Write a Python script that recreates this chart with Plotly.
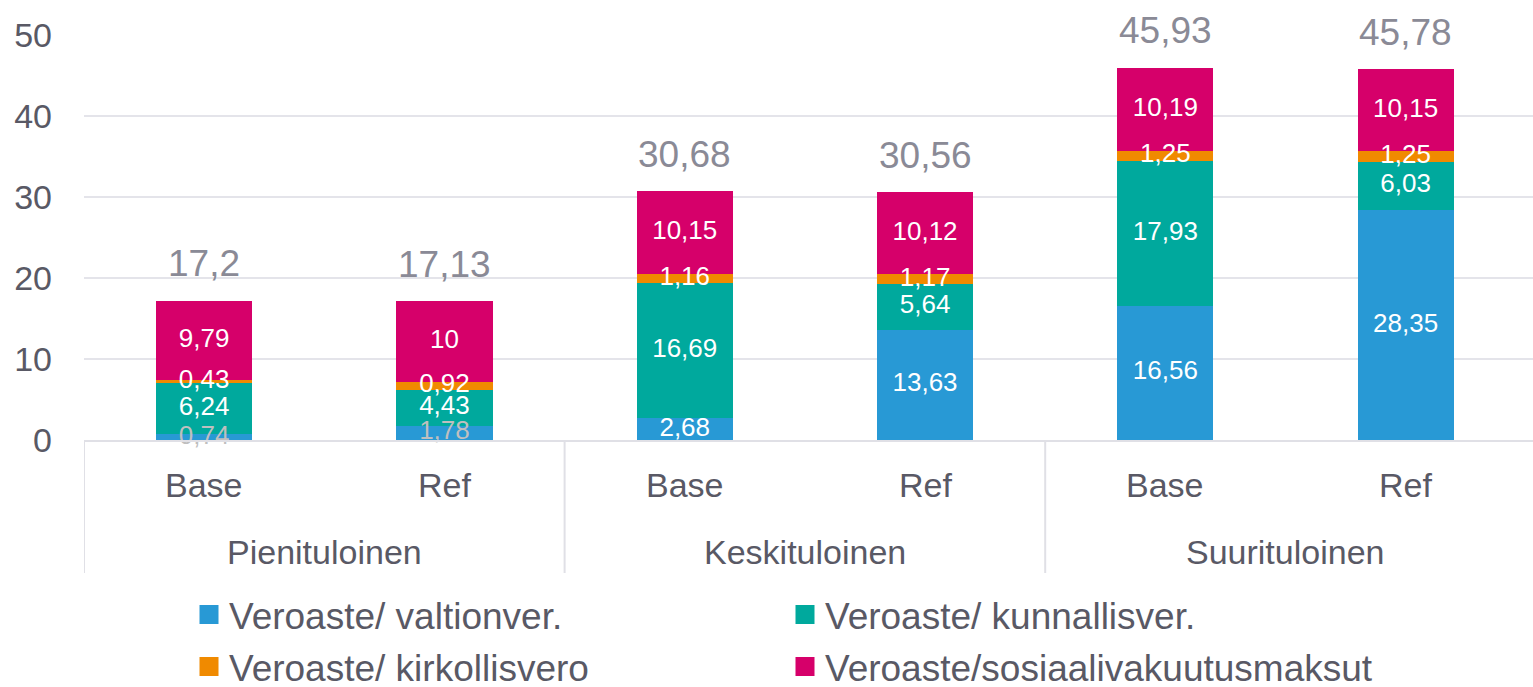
import plotly.graph_objects as go
import numpy as np

groups = ["Pienituloinen", "Keskituloinen", "Suurituloinen"]
cats = ["Base", "Ref", "Base", "Ref", "Base", "Ref"]

series_names = ["Veroaste/ valtionver.", "Veroaste/ kunnallisver.",
                "Veroaste/ kirkollisvero", "Veroaste/sosiaalivakuutusmaksut"]
valtion = [0.74, 1.78, 2.68, 13.63, 16.56, 28.35]
kunnallis = [6.24, 4.43, 16.69, 5.64, 17.93, 6.03]
kirkollis = [0.43, 0.92, 1.16, 1.17, 1.25, 1.25]
sosiaali = [9.79, 10.0, 10.15, 10.12, 10.19, 10.15]
totals = [17.2, 17.13, 30.68, 30.56, 45.93, 45.78]

colors = ["#2899D5", "#00A99D", "#F08A00", "#D6006A"]
series = [valtion, kunnallis, kirkollis, sosiaali]

FONT = "Arial, Liberation Sans, sans-serif"
AXIS_COL = "#595965"
LINE_COL = "#E0E0E6"

W, H = 1533, 687
L, T, B = 84, 35, 247
PH = H - T - B


def fmt(v):
    s = ("%.2f" % v).rstrip("0").rstrip(".")
    return s.replace(".", ",")


xs = list(range(len(cats)))
fig = go.Figure()
for name, vals, col in zip(series_names, series, colors):
    fig.add_trace(go.Bar(x=xs, y=vals, name=name, marker=dict(color=col, line=dict(width=0)),
                         hoverinfo="skip", showlegend=False))

# legend entries (bigger square symbols)
for i, (name, col) in enumerate(zip(series_names, colors)):
    fig.add_trace(go.Scatter(x=[None], y=[None], mode="markers", name=name,
                             marker=dict(symbol="square", size=16, color=col,
                                         line=dict(color=col, width=3)),
                             legend="legend" if i < 2 else "legend2"))

# segment labels
base = np.zeros(len(cats))
for i, vals in enumerate(series):
    v = np.array(vals)
    mid = base + v / 2
    tcol = ["white"] * len(cats)
    if i == 0:
        tcol = ["#BFBFBF" if val < 2 else "white" for val in vals]
    fig.add_trace(go.Scatter(x=xs, y=mid, mode="text", text=[fmt(t) for t in vals],
                             textposition="middle center",
                             textfont=dict(size=26, color=tcol, family=FONT),
                             showlegend=False, hoverinfo="skip", cliponaxis=False))
    base = base + v

annotations = []
# totals
for i, t in enumerate(totals):
    annotations.append(dict(x=i, y=t, xref="x", yref="y", text=fmt(t), showarrow=False,
                            yanchor="middle", yshift=37,
                            font=dict(size=37, color="#8A8A96", family=FONT)))
# category labels
for i, c in enumerate(cats):
    annotations.append(dict(x=i, y=(T + PH - 485) / PH, xref="x", yref="paper", text=c,
                            showarrow=False, yanchor="middle",
                            font=dict(size=34, color=AXIS_COL, family=FONT)))
# group labels
for g, name in enumerate(groups):
    annotations.append(dict(x=2 * g + 0.5, y=(T + PH - 552) / PH, xref="x", yref="paper",
                            text=name, showarrow=False, yanchor="middle",
                            font=dict(size=34, color=AXIS_COL, family=FONT)))

shapes = []
for xd in [-0.5, 1.5, 3.5]:
    shapes.append(dict(type="line", xref="x", yref="paper", x0=xd, x1=xd,
                       y0=0, y1=(T + PH - 573) / PH, line=dict(color=LINE_COL, width=2)))

fig.update_layout(
    width=W, height=H,
    margin=dict(l=L, r=0, t=T, b=B, autoexpand=False),
    barmode="stack", bargap=0.6,
    plot_bgcolor="white", paper_bgcolor="white",
    font=dict(family=FONT, size=34, color=AXIS_COL),
    legend=dict(orientation="h", x=(189 - L) / (W - L), xanchor="left",
                yref="container", y=1 - 615 / H, yanchor="middle", traceorder="normal",
                entrywidth=551, font=dict(size=37, color=AXIS_COL)),
    legend2=dict(orientation="h", x=(189 - L) / (W - L), xanchor="left",
                 yref="container", y=1 - 667 / H, yanchor="middle", traceorder="normal",
                 entrywidth=551, font=dict(size=37, color=AXIS_COL)),
    annotations=annotations,
    shapes=shapes,
)
fig.update_yaxes(range=[0, 50], dtick=10, showgrid=True, gridcolor="#E4E4EA", gridwidth=2,
                 zeroline=False, showline=False, tickfont=dict(size=34, color=AXIS_COL),
                 ticks="", ticklabelstandoff=31, automargin=False)
fig.update_xaxes(range=[-0.5, 5.53], showline=True, linecolor=LINE_COL, linewidth=2,
                 showgrid=False, zeroline=False, showticklabels=False, ticks="",
                 automargin=False)

fig.write_html("out.html", config={"displayModeBar": False},
               post_script="document.body.style.margin='0';")
